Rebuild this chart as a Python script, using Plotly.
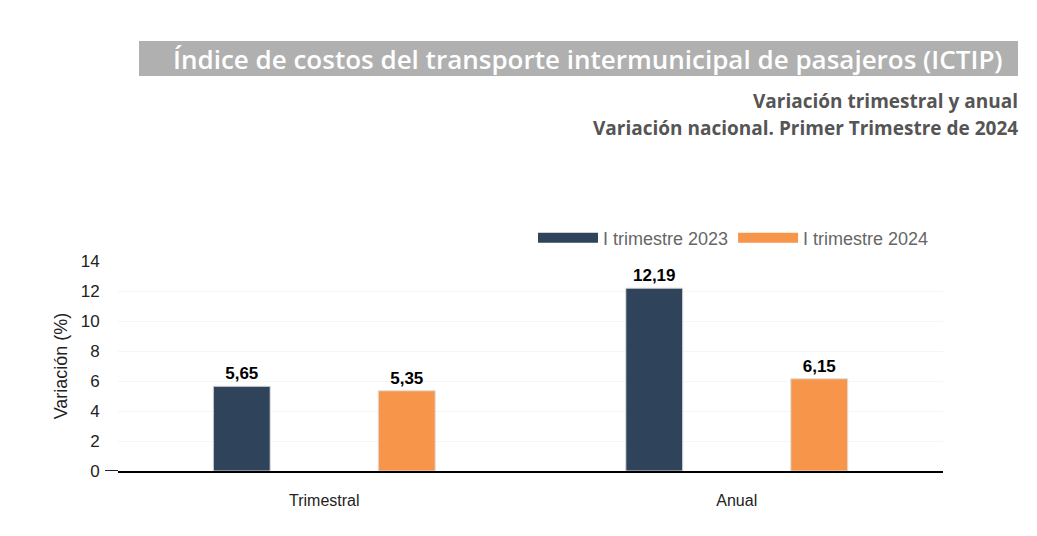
import plotly.graph_objects as go

categories = ["Trimestral", "Anual"]
series_names = ["I trimestre 2023", "I trimestre 2024"]
values_2023 = [5.65, 12.19]
values_2024 = [5.35, 6.15]
colors = ["#2F435A", "#F7964A"]
yticks = [0, 2, 4, 6, 8, 10, 12, 14]

def fmt(v):
    return f"{v:.2f}".replace(".", ",")

fig = go.Figure()
for name, vals, col in zip(series_names, [values_2023, values_2024], colors):
    fig.add_trace(go.Bar(
        x=categories, y=vals, name=name, showlegend=False,
        marker=dict(color=col, line=dict(color="#DDDDDD", width=1)),
        text=[fmt(v) for v in vals], textposition="outside",
        textfont=dict(family="Arial", size=17, color="#000000", weight="bold"),
        cliponaxis=False,
    ))
# legend entries (wide rectangular swatches)
for name, col in zip(series_names, colors):
    fig.add_trace(go.Scatter(
        x=[None], y=[None], mode="lines", name=name,
        line=dict(color=col, width=18), showlegend=True,
    ))

W = 825.0
H = 210.0
def px(x):
    return (x - 118) / W
def py(y):
    return (471 - y) / H

fig.update_layout(
    width=1037, height=536,
    margin=dict(l=118, r=94, t=261, b=65, autoexpand=False),
    paper_bgcolor="white", plot_bgcolor="white",
    barmode="group", bargap=0.2, bargroupgap=0.655,
    font=dict(family="Arial", size=17, color="#222222"),
    showlegend=True,
    legend=dict(orientation="h", x=px(934), xanchor="right", y=py(238), yanchor="middle",
                font=dict(family="Arial", size=18, color="#666666"),
                itemwidth=60, traceorder="normal"),
    xaxis=dict(showline=True, linecolor="#000000", linewidth=2, ticks="outside",
               ticklen=14, tickcolor="rgba(255,255,255,0)",
               tickfont=dict(family="Arial", size=16, color="#222222")),
    yaxis=dict(range=[0, 14], tickvals=yticks, showgrid=True, gridcolor="#F6F6F6",
               zeroline=False, ticks="outside", ticklen=14, tickcolor="rgba(255,255,255,0)",
               tickfont=dict(family="Arial", size=17, color="#222222"),
               title=dict(text="Variación (%)", font=dict(family="Arial", size=18, color="#222222"), standoff=8)),
    shapes=[
        dict(type="rect", xref="paper", yref="paper", x0=px(139), x1=px(1018),
             y0=py(76), y1=py(41), fillcolor="#B0B0B0", line=dict(width=0), layer="below"),
        dict(type="line", xref="paper", yref="y", x0=px(105), x1=0, y0=0, y1=0,
             line=dict(color="#222222", width=2)),
    ],
    annotations=[
        dict(text="Índice de costos del transporte intermunicipal de pasajeros (ICTIP)",
             xref="paper", yref="paper", x=px(1005), xanchor="right",
             y=py(58.5), yanchor="middle", showarrow=False,
             font=dict(family="Open Sans", size=26, color="white", weight=600)),
        dict(text="<b>Variación trimestral y anual</b>", xref="paper", yref="paper",
             x=px(1020), xanchor="right", y=py(101), yanchor="middle", showarrow=False,
             font=dict(family="Open Sans", size=19, color="#555555")),
        dict(text="<b>Variación nacional. Primer Trimestre de 2024</b>", xref="paper", yref="paper",
             x=px(1020), xanchor="right", y=py(128), yanchor="middle", showarrow=False,
             font=dict(family="Open Sans", size=19, color="#555555")),
    ],
)

fig.write_html("out.html")
